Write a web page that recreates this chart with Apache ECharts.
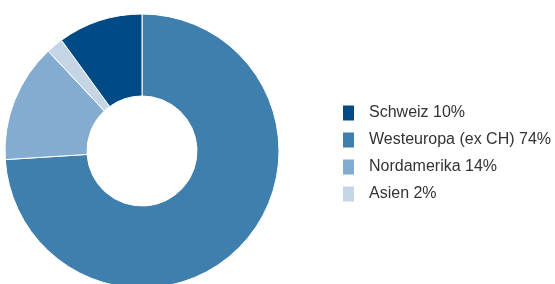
<!DOCTYPE html>
<html>
<head>
<meta charset="utf-8">
<script src="https://cdn.jsdelivr.net/npm/echarts@6/dist/echarts.min.js"></script>
<style>
  html, body { margin: 0; padding: 0; background: #fff; }
  #chart { width: 555px; height: 284px; }
</style>
</head>
<body>
<div id="chart"></div>
<script>
// Regionen in Zeichenreihenfolge (im Uhrzeigersinn ab 12 Uhr)
var regions = ['Westeuropa (ex CH) 74%', 'Nordamerika 14%', 'Asien 2%', 'Schweiz 10%'];
var shares = [74, 14, 2, 10];
var colors = ['#3f7fae', '#84abd0', '#c6d5e6', '#004a85'];
// Legendenreihenfolge
var legendOrder = ['Schweiz 10%', 'Westeuropa (ex CH) 74%', 'Nordamerika 14%', 'Asien 2%'];

var pieData = [];
for (var i = 0; i < regions.length; i++) {
    pieData.push({ name: regions[i], value: shares[i], itemStyle: { color: colors[i] } });
}

var myChart = echarts.init(document.getElementById('chart'));
myChart.setOption({
    animation: false,
    legend: {
        orient: 'vertical',
        left: 343,
        top: 105,
        padding: 0,
        itemWidth: 11,
        itemHeight: 15,
        itemGap: 11,
        icon: 'rect',
        itemStyle: { borderWidth: 0 },
        data: legendOrder,
        textStyle: {
            fontFamily: 'Liberation Sans',
            fontSize: 16,
            lineHeight: 15,
            color: '#333',
            padding: [1, 0, 0, 10]
        }
    },
    series: [{
        type: 'pie',
        center: [142, 151],
        radius: [55, 137],
        startAngle: 90,
        clockwise: true,
        label: { show: false },
        labelLine: { show: false },
        itemStyle: { borderColor: '#fff', borderWidth: 1 },
        emphasis: { disabled: true },
        data: pieData
    }]
});
</script>
</body>
</html>
